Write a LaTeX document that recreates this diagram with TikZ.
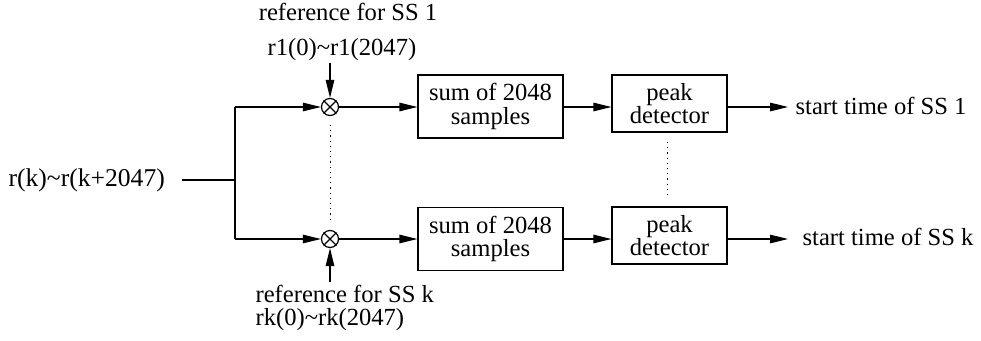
\documentclass[tikz,border=0pt]{standalone}
\usepackage{fontspec}
\setmainfont{Liberation Serif}
\usetikzlibrary{arrows.meta}
\begin{document}
\begin{tikzpicture}[x=1pt,y=-1pt, line width=1.2pt,
  txt/.style={font=\fontsize{24.6}{23.5}\selectfont, inner sep=0pt},
  blk/.style={draw, txt, align=center, minimum width=145pt, minimum height=63pt},
  pkbox/.style={draw, txt, align=center, minimum width=115pt, minimum height=57pt},
  mix/.style={draw, circle, minimum size=17pt, inner sep=0pt},
  sig/.style={-{Triangle[length=18pt,width=8.5pt]}},
  dots/.style={line width=1pt, dash pattern=on 1.2pt off 4pt}]
\useasboundingbox (0,0) rectangle (981,340);

% multipliers
\node[mix] (m1) at (330,107) {};
\node[mix] (mk) at (330,239) {};
\foreach \m in {m1,mk}
  \draw (\m.north west) -- (\m.south east) (\m.north east) -- (\m.south west);

% processing blocks
\node[blk] (s1) at (490.5,106.5) {sum of 2048\\samples};
\node[blk] (sk) at (490.5,239) {sum of 2048\\samples};
\node[pkbox] (p1) at (669.5,103.5) {peak\\detector};
\node[pkbox] (p2) at (669.5,235.5) {peak\\detector};

% input and splitting
\node[txt, font=\fontsize{25.6}{26}\selectfont, anchor=base west] (in) at (8,186)
  {r(k)\textasciitilde r(k+2047)};
\coordinate (j) at (235,180);
\draw (in.east |- j) ++(17,0) -- (j);
\draw (j |- m1) -- (j |- mk);
\draw[sig] (j |- m1) -- (m1.west);
\draw[sig] (j |- mk) -- (mk.west);

% reference inputs
\node[txt, anchor=base] (t1) at (348,20) {reference for SS 1};
\node[txt, anchor=base] (r1) at (342,55) {r1(0)\textasciitilde r1(2047)};
\coordinate (a1) at (330,63);
\draw[sig] (a1) -- (m1.north);
\node[txt, anchor=base west] (tk) at (255,302) {reference for SS k};
\node[txt, anchor=base west] (rk) at (255,325) {rk(0)\textasciitilde rk(2047)};
\coordinate (ak) at (330,282);
\draw[sig] (ak) -- (mk.south);

% signal chain
\draw[sig] (m1.east) -- (s1.west |- m1);
\draw[sig] (mk.east) -- (sk.west |- mk);
\draw[sig] (s1.east |- m1) -- (p1.west |- m1);
\draw[sig] (sk.east |- mk) -- (p2.west |- mk);

% outputs
\node[txt, anchor=base west, inner xsep=7pt] (o1) at (788,114) {start time of SS 1};
\node[txt, anchor=base west, inner xsep=14pt] (o2) at (788,245) {start time of SS k};
\draw[sig] (p1.east |- m1) -- (o1.west |- m1);
\draw[sig] (p2.east |- mk) -- (o2.west |- mk);

% ellipsis between branches
\draw[dots] (m1) ++(0,18) -- ++(0,97);
\coordinate (d1) at (667,142);
\coordinate (d2) at (667,197);
\draw[dots] (d1) -- (d2);
\end{tikzpicture}
\end{document}
